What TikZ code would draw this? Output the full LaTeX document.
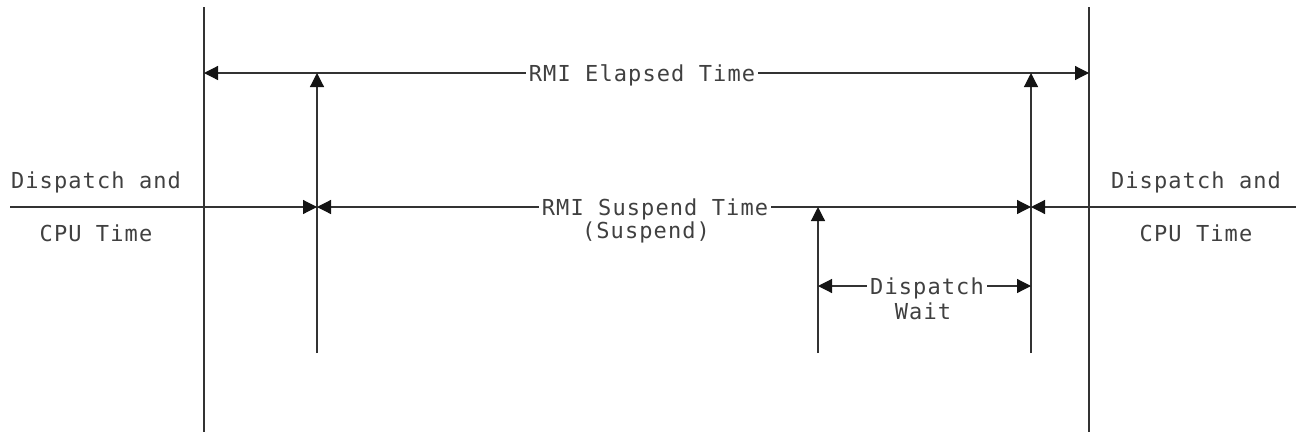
\documentclass[tikz,border=0pt]{standalone}
\usepackage{fontspec}
\setmonofont{DejaVu Sans Mono}[LetterSpace=5]
\usetikzlibrary{arrows.meta}
\begin{document}
\begin{tikzpicture}[x=1pt,y=-1pt,
  ln/.style={line width=1.2pt, draw=black!80},
  arr/.style={ln, -{Triangle[length=14pt,width=14pt,color=black!92]}},
  lbl/.style={font=\ttfamily\fontsize{22}{25}\selectfont, text=black!75, inner xsep=3pt, inner ysep=0pt, anchor=base}]
\useasboundingbox (0,0) rectangle (1296,432);
% outer verticals
\coordinate (LT) at (204,7); \coordinate (LB) at (204,432);
\coordinate (RT) at (1089,7); \coordinate (RB) at (1089,432);
\draw[ln] (LT) -- (LB);
\draw[ln] (RT) -- (RB);
% elapsed
\coordinate (eL) at (204,73); \coordinate (eR) at (1089,73);
\node[lbl] (elapsed) at (642,81) {RMI Elapsed Time};
\draw[arr] (elapsed.west |- eL) -- (eL);
\draw[arr] (elapsed.east |- eR) -- (eR);
% vertical arrows
\coordinate (a1b) at (317,353); \coordinate (a1t) at (317,73);
\draw[arr] (a1b) -- (a1t);
\coordinate (a2b) at (1031,353); \coordinate (a2t) at (1031,73);
\draw[arr] (a2b) -- (a2t);
% middle line
\coordinate (mL) at (10,207); \coordinate (m1) at (317,207);
\coordinate (m2) at (1031,207); \coordinate (mR) at (1296,207);
\draw[arr] (mL) -- (m1);
\draw[arr] (mR) -- (m2);
\node[lbl] (susp) at (655,215) {RMI Suspend Time};
\node[lbl] (susp2) at (646,238) {(Suspend)};
\draw[arr] (susp.west |- m1) -- (m1);
\draw[arr] (susp.east |- m2) -- (m2);
% dispatch wait
\coordinate (a3b) at (818,353); \coordinate (a3t) at (818,207);
\draw[arr] (a3b) -- (a3t);
\node[lbl] (dw) at (927,294) {Dispatch};
\node[lbl] (dw2) at (923,319) {Wait};
\coordinate (w1) at (818,286); \coordinate (w2) at (1031,286);
\draw[arr] (dw.west |- w1) -- (w1);
\draw[arr] (dw.east |- w2) -- (w2);
% side labels
\node[lbl] (ld1) at (96,188) {Dispatch and};
\node[lbl] (ld2) at (96,241) {CPU Time};
\node[lbl] (rd1) at (1196,188) {Dispatch and};
\node[lbl] (rd2) at (1196,241) {CPU Time};
\end{tikzpicture}
\end{document}
